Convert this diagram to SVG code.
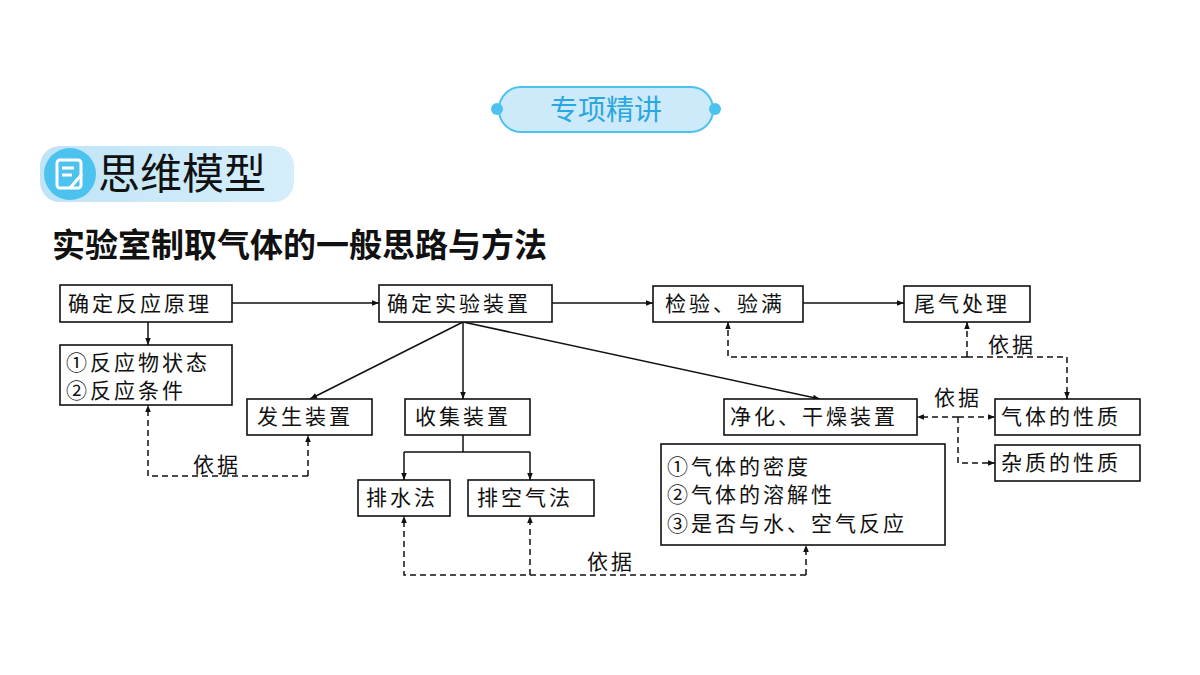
<svg xmlns="http://www.w3.org/2000/svg" width="1200" height="675" viewBox="0 0 1200 675">
<defs>
<marker id="a" viewBox="0 0 10 10" refX="10" refY="5" markerWidth="9" markerHeight="7" orient="auto" markerUnits="userSpaceOnUse"><path d="M0,1 L10,5 L0,9 Z" fill="#111"/></marker>
<linearGradient id="g" x1="0" x2="1"><stop offset="0" stop-color="#bfe4f7"/><stop offset="1" stop-color="#d6eefb"/></linearGradient>
</defs>
<style>
.b rect{fill:#fff;stroke:#111;stroke-width:1.6}
.b text,.t{font-family:"Liberation Serif","Noto Sans CJK SC",serif;font-size:21px;fill:#111;letter-spacing:3px}
.c line,.c path{stroke:#111;stroke-width:1.5;fill:none}
.d{stroke-dasharray:6,4}
</style>
<rect width="1200" height="675" fill="#fff"/>
<g id="header">
<rect x="499" y="87" width="214" height="45" rx="22" fill="#cdeafb" stroke="#4cc3ef" stroke-width="2"/>
<circle cx="497" cy="109" r="6" fill="#4cc3ef"/><circle cx="715" cy="109" r="6" fill="#4cc3ef"/>
<text x="606" y="120" text-anchor="middle" font-family="Noto Sans CJK SC,sans-serif" font-size="28" fill="#2aa7e0">专项精讲</text>
<rect x="40" y="146" width="254" height="56" rx="20" fill="url(#g)"/>
<circle cx="70" cy="174" r="26" fill="#4cc3ef"/>
<rect x="57" y="160" width="24" height="28" rx="3" fill="none" stroke="#fff" stroke-width="3"/>
<path d="M62 168h12M62 175h10M70 188l12-14" stroke="#fff" stroke-width="3"/>
<text x="98" y="189" font-family="Noto Sans CJK SC,sans-serif" font-size="42" fill="#111">思维模型</text>
<text x="52" y="257" font-family="Noto Sans CJK SC,sans-serif" font-size="33" font-weight="bold" fill="#111">实验室制取气体的一般思路与方法</text>
</g>
<g class="c" id="connectors">
<line x1="232" y1="303" x2="379" y2="303" marker-end="url(#a)"/>
<line x1="552" y1="303" x2="653" y2="303" marker-end="url(#a)"/>
<line x1="803" y1="303" x2="904" y2="303" marker-end="url(#a)"/>
<line x1="148" y1="322" x2="148" y2="345" marker-end="url(#a)"/>
<line x1="463" y1="322" x2="310" y2="399" marker-end="url(#a)"/>
<line x1="463" y1="322" x2="463" y2="399" marker-end="url(#a)"/>
<line x1="463" y1="322" x2="820" y2="399" marker-end="url(#a)"/>
<path d="M463 435V452M404 452H530"/>
<line x1="530" y1="452" x2="530" y2="480" marker-end="url(#a)"/>
<line x1="404" y1="452" x2="404" y2="480" marker-end="url(#a)"/>
<path class="d" d="M308 476H148V405" marker-end="url(#a)"/>
<line class="d" x1="308" y1="476" x2="308" y2="435" marker-end="url(#a)"/>
<path class="d" d="M806 575H404V516" marker-end="url(#a)"/>
<line class="d" x1="530" y1="575" x2="530" y2="516" marker-end="url(#a)"/>
<line class="d" x1="806" y1="575" x2="806" y2="545" marker-end="url(#a)"/>
<path class="d" d="M967 357H728V322" marker-end="url(#a)"/>
<line class="d" x1="967" y1="357" x2="967" y2="322" marker-end="url(#a)"/>
<path class="d" d="M967 357H1067V399" marker-end="url(#a)"/>
<line class="d" x1="958" y1="417" x2="917" y2="417" marker-end="url(#a)"/>
<line class="d" x1="958" y1="417" x2="995" y2="417" marker-end="url(#a)"/>
<path class="d" d="M958 417V463H995" marker-end="url(#a)"/>
<text class="t" x="193" y="472">依据</text>
<text class="t" x="587" y="569">依据</text>
<text class="t" x="988" y="352">依据</text>
<text class="t" x="934" y="405">依据</text>
</g>
<g class="b">
<g id="n1"><rect x="60" y="285" width="172" height="37"/><text x="68" y="311">确定反应原理</text></g>
<g id="n2"><rect x="379" y="285" width="173" height="37"/><text x="387" y="311">确定实验装置</text></g>
<g id="n3"><rect x="653" y="286" width="150" height="36"/><text x="665" y="311">检验、验满</text></g>
<g id="n4"><rect x="904" y="286" width="126" height="36"/><text x="914" y="311">尾气处理</text></g>
<g id="n5"><rect x="60" y="345" width="172" height="60"/><text x="66" y="370">①反应物状态</text><text x="66" y="398">②反应条件</text></g>
<g id="n6"><rect x="247" y="399" width="125" height="36"/><text x="257" y="424">发生装置</text></g>
<g id="n7"><rect x="405" y="399" width="125" height="36"/><text x="415" y="424">收集装置</text></g>
<g id="n8"><rect x="724" y="399" width="193" height="36"/><text x="730" y="424">净化、干燥装置</text></g>
<g id="n9"><rect x="995" y="399" width="145" height="36"/><text x="1001" y="424">气体的性质</text></g>
<g id="n10"><rect x="995" y="445" width="145" height="36"/><text x="1001" y="470">杂质的性质</text></g>
<g id="n11"><rect x="358" y="480" width="92" height="36"/><text x="366" y="505">排水法</text></g>
<g id="n12"><rect x="468" y="480" width="126" height="36"/><text x="477" y="505">排空气法</text></g>
<g id="n13"><rect x="661" y="444" width="284" height="101"/><text x="667" y="474">①气体的密度</text><text x="667" y="502">②气体的溶解性</text><text x="667" y="531">③是否与水、空气反应</text></g>
</g>
</svg>
